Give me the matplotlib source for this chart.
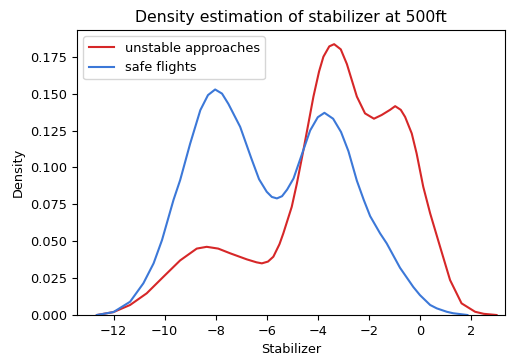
import matplotlib
matplotlib.use('Agg')
import matplotlib.pyplot as plt

# Curvas de densidad leidas a mano de la imagen de referencia
unstable_x = [-12.65, -12.0, -11.35, -10.7, -10.04, -9.39, -8.74, -8.35, -7.9, -7.43,
              -6.78, -6.4, -6.19, -5.95, -5.74, -5.5, -5.35, -5.02, -4.82, -4.56,
              -4.17, -3.95, -3.78, -3.55, -3.36, -3.1, -2.86, -2.47, -2.15, -1.8,
              -1.5, -1.17, -0.97, -0.75, -0.58, -0.32, -0.13, 0.13, 0.40, 0.79,
              1.18, 1.63, 2.16, 2.5, 3.0]
unstable_y = [0.0, 0.002, 0.0068, 0.0147, 0.026, 0.037, 0.045, 0.0462, 0.045, 0.0418,
              0.0377, 0.0357, 0.035, 0.0362, 0.0395, 0.048, 0.0553, 0.0733, 0.089, 0.112,
              0.148, 0.165, 0.175, 0.182, 0.1835, 0.180, 0.170, 0.148, 0.1366, 0.133,
              0.1355, 0.139, 0.1415, 0.139, 0.1342, 0.123, 0.1095, 0.0869, 0.0689, 0.0462,
              0.0237, 0.0079, 0.0022, 0.0008, 0.0]

safe_x = [-12.65, -12.0, -11.35, -10.83, -10.43, -10.1, -9.65, -9.39, -9.0, -8.6,
          -8.3, -8.02, -7.75, -7.5, -7.04, -6.6, -6.3, -6.0, -5.8, -5.6,
          -5.4, -5.2, -4.95, -4.56, -4.3, -4.0, -3.74, -3.4, -3.09, -2.8,
          -2.47, -2.2, -1.95, -1.56, -1.3, -0.78, -0.26, 0.0, 0.4, 0.66,
          1.05, 1.3, 1.86]
safe_y = [0.0, 0.002, 0.009, 0.0215, 0.035, 0.0508, 0.078, 0.0914, 0.116, 0.1388,
          0.149, 0.1528, 0.150, 0.143, 0.1275, 0.106, 0.092, 0.0835, 0.080, 0.079,
          0.0805, 0.085, 0.0925, 0.112, 0.125, 0.134, 0.137, 0.133, 0.124, 0.111,
          0.091, 0.078, 0.067, 0.0553, 0.0485, 0.032, 0.019, 0.0135, 0.0068, 0.0045,
          0.0022, 0.0012, 0.0]

fig = plt.figure(figsize=(5.15, 3.61), dpi=100)
ax = fig.add_axes([0.1495, 0.1274, 0.831, 0.7895])

ax.plot(unstable_x, unstable_y, color='#d62728', lw=1.5, label='unstable approaches')
ax.plot(safe_x, safe_y, color='#3c78d8', lw=1.5, label='safe flights')

ax.set_xlim(-13.43, 3.33)
ax.set_ylim(0, 0.1931)
ax.set_xticks([-12, -10, -8, -6, -4, -2, 0, 2])
ax.tick_params(labelsize=9.3)
ax.set_title('Density estimation of stabilizer at 500ft', fontsize=11.3)
ax.set_xlabel('Stabilizer', fontsize=9.3)
ax.set_ylabel('Density', fontsize=9.3)
ax.legend(loc='upper left', fontsize=9.3)

fig.savefig('out.png', dpi=100)
plt.close()
